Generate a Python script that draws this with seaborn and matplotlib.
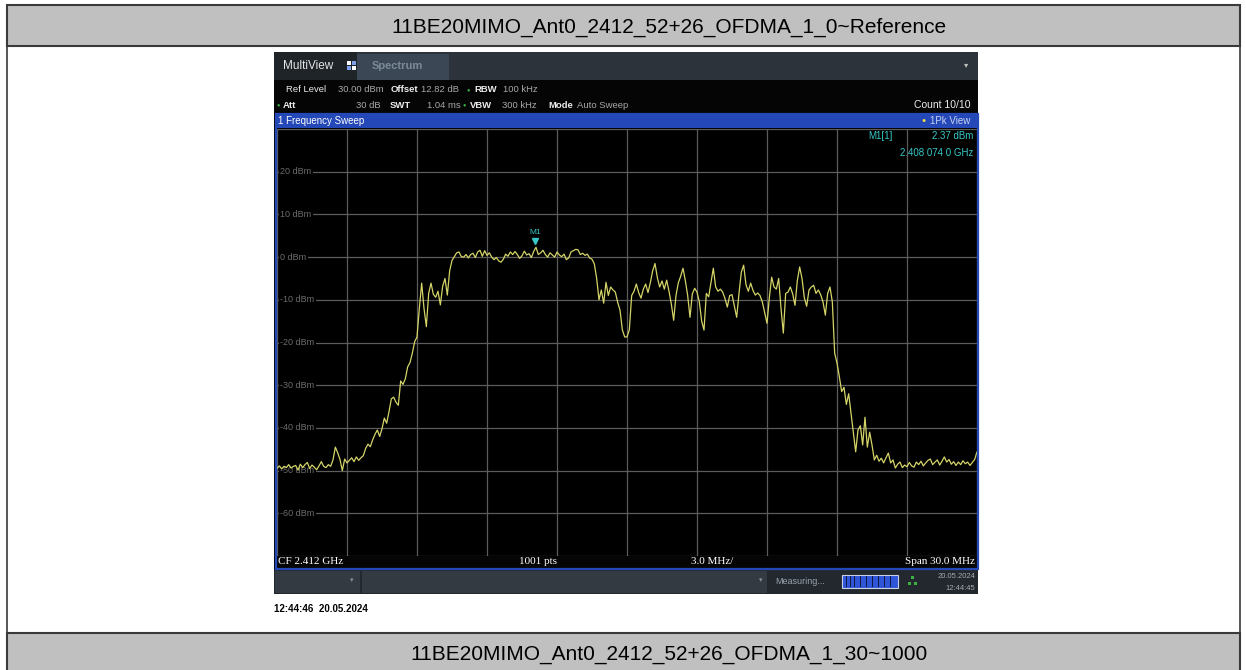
import numpy as np
import matplotlib
matplotlib.use("Agg")
import matplotlib.pyplot as plt
import matplotlib.transforms as mtransforms
from matplotlib.patches import Rectangle
import seaborn as sns

# Analyzer settings shown on the screen
CF_MHZ = 2412.0
SPAN_MHZ = 30.0
REF_LEVEL = 30
BOTTOM_LEVEL = -70

# Trace, one value every 0.1 MHz (2397 .. 2427 MHz)
level_dbm = [
    -49.5, -48.9, -49.6, -49.0, -49.3, -48.6, -49.4, -49.0, -48.8, -49.9,
    -48.5, -49.3, -48.6, -48.1, -49.5, -48.7, -49.2, -49.8, -48.9, -47.9,
    -49.0, -49.3, -48.6, -49.0, -47.5, -44.5, -45.8, -47.4, -50.0, -47.3,
    -48.2, -47.6, -47.0, -47.9, -46.8, -47.6, -47.0, -46.5, -44.8, -43.8,
    -44.4, -42.8, -41.5, -40.5, -42.0, -40.2, -37.7, -38.9, -36.2, -33.2,
    -32.8, -34.0, -34.7, -29.0, -29.8, -28.5, -25.7, -24.7, -22.5, -19.8,
    -18.7, -12.0, -6.1, -12.0, -16.3, -8.5, -6.1, -8.7, -9.4, -8.0,
    -11.2, -6.8, -5.0, -8.9, -3.2, -0.8, 0.1, 1.0, 1.2, 0.1,
    0.0, 0.6, -0.2, 0.6, 0.9, -0.1, 1.2, 1.6, 0.2, 1.5,
    0.4, 1.0, 0.0, -0.6, -0.1, -0.9, -1.2, -0.5, 0.7, 0.2,
    1.2, 0.6, 1.3, 0.6, -0.3, 0.3, 1.4, 0.5, 0.8, -0.1,
    1.3, 2.3, 0.6, 1.0, 1.6, 0.6, 0.0, 1.0, 0.5, 0.0,
    1.2, 0.5, 0.1, 0.7, -0.6, -0.2, 1.2, 1.5, 1.8, 1.7,
    0.6, 0.9, 0.4, 0.7, -0.2, -0.5, -1.6, -5.0, -10.0, -7.7,
    -10.8, -5.9, -9.0, -7.0, -7.7, -8.2, -10.6, -12.4, -17.0, -18.7,
    -18.7, -17.0, -9.0, -8.0, -6.3, -8.3, -9.6, -7.5, -6.3, -8.3,
    -6.0, -3.2, -1.5, -4.8, -7.0, -5.6, -7.5, -5.4, -8.0, -11.0,
    -14.8, -9.0, -6.0, -4.5, -2.6, -5.5, -9.0, -14.1, -8.6, -7.3,
    -8.2, -10.5, -15.0, -17.1, -8.5, -9.3, -6.0, -2.6, -7.0, -8.0,
    -7.5, -8.2, -9.7, -11.7, -9.0, -8.8, -11.5, -14.1, -8.5, -3.5,
    -1.9, -6.5, -8.0, -6.1, -7.8, -8.9, -8.4, -9.0, -10.5, -13.0,
    -15.5, -9.5, -4.7, -7.0, -7.5, -5.0, -12.0, -17.8, -8.5, -8.2,
    -7.0, -8.6, -11.3, -5.5, -2.3, -5.0, -9.5, -11.5, -7.7, -7.0,
    -6.6, -8.5, -7.7, -8.8, -10.5, -13.6, -8.5, -7.0, -10.5, -22.5,
    -24.8, -28.0, -31.5, -30.5, -34.5, -32.0, -36.6, -41.2, -45.6, -40.5,
    -39.5, -44.0, -37.5, -44.5, -41.0, -44.0, -47.5, -46.4, -47.8, -47.1,
    -48.2, -47.0, -45.9, -48.2, -47.5, -49.4, -48.5, -48.0, -49.3, -48.7,
    -49.1, -48.1, -48.9, -49.2, -48.0, -48.6, -47.8, -48.9, -48.2, -47.6,
    -47.3, -48.6, -48.0, -47.5, -48.7, -47.8, -46.8, -48.0, -47.4, -48.5,
    -47.9, -48.8, -48.0, -48.6, -47.7, -48.4, -48.0, -48.8, -48.1, -47.4,
    -45.6,
]
# sweep points are evenly spaced across the span
freq_mhz = np.linspace(CF_MHZ - SPAN_MHZ / 2, CF_MHZ + SPAN_MHZ / 2, len(level_dbm))

ytick_values = [20, 10, 0, -10, -20, -30, -40, -50, -60]

marker_freq_mhz = 2408.074
marker_level_dbm = 2.37

TITLE_TOP = "11BE20MIMO_Ant0_2412_52+26_OFDMA_1_0~Reference"
TITLE_BOTTOM = "11BE20MIMO_Ant0_2412_52+26_OFDMA_1_30~1000"

TRACE_COLOR = "#d4d468"
MARKER_COLOR = "#38c8c8"
GRID_COLOR = "#5c5c5c"
FRAME_BLUE = "#2448b8"

sns.set_theme(style="white")
plt.rcParams["font.family"] = ["Liberation Sans", "DejaVu Sans"]

W, H = 1246, 670
fig = plt.figure(figsize=(W / 100, H / 100), dpi=100)
fig.patch.set_facecolor("white")


def px_rect(x0, y0, x1, y1, color, z=-5, **kw):
    kw.setdefault("edgecolor", "none")
    fig.add_artist(Rectangle((x0 / W, 1 - y1 / H), (x1 - x0) / W, (y1 - y0) / H,
                             transform=fig.transFigure, facecolor=color,
                             zorder=z, **kw))


def px_text(x, y, s, **kw):
    kw.setdefault("va", "center")
    fig.text(x / W, 1 - y / H, s, **kw)


# page frame with the two grey caption bands
px_rect(7, 46, 1240, 633, "none", z=-6, edgecolor="#3a3a3a", linewidth=1.2)
px_rect(7, 5, 1240, 46, "#c0c0c0", z=-6, edgecolor="#3a3a3a", linewidth=1.5)
px_rect(7, 633, 1240, 675, "#c0c0c0", z=-6, edgecolor="#3a3a3a", linewidth=1.5)
px_text(669, 27, TITLE_TOP, ha="center", fontsize=15, color="black")
px_text(669, 654, TITLE_BOTTOM, ha="center", fontsize=15, color="black")
px_text(274, 609, "12:44:46  20.05.2024", ha="left", fontsize=7,
        fontweight="bold", color="black")

# screenshot background, tab bar and header rows
px_rect(274, 52, 978, 594, "#050505")
px_rect(274, 52, 978, 80, "#2c333b")
px_rect(274, 52, 357, 80, "#1f2429")
px_rect(357, 54, 449, 80, "#3b4754")
px_text(283, 66, "MultiView", ha="left", fontsize=8.5, color="#e4e4e4")
for dx, dy, c in [(0, 0, "#ffffff"), (5, 0, "#7fa0e8"), (0, 5, "#7fa0e8"), (5, 5, "#ffffff")]:
    px_rect(347 + dx, 61 + dy, 351 + dx, 65 + dy, c, z=-4)
px_text(372, 66, "Spectrum", ha="left", fontsize=8, fontweight="bold", color="#7b8a99")
px_text(966, 66, "▾", ha="center", fontsize=6, color="#c0c0c0")

UI = dict(fontsize=6.8, va="center")
LBL = "#ececec"
VAL = "#a8a8a8"
px_text(286, 90, "Ref Level", ha="left", color=LBL, **UI)
px_text(338, 90, "30.00 dBm", ha="left", color=VAL, **UI)
px_text(391, 90, "Offset", ha="left", color=LBL, fontweight="bold", **UI)
px_text(421, 90, "12.82 dB", ha="left", color=VAL, **UI)
px_text(468, 90, "●", ha="center", color="#3cb043", fontsize=4)
px_text(474, 90, "RBW", ha="left", color=LBL, fontweight="bold", **UI)
px_text(503, 90, "100 kHz", ha="left", color=VAL, **UI)
px_text(278, 105, "●", ha="center", color="#3cb043", fontsize=4)
px_text(283, 105, "Att", ha="left", color=LBL, fontweight="bold", **UI)
px_text(356, 105, "30 dB", ha="left", color=VAL, **UI)
px_text(390, 105, "SWT", ha="left", color=LBL, fontweight="bold", **UI)
px_text(427, 105, "1.04 ms", ha="left", color=VAL, **UI)
px_text(464, 105, "●", ha="center", color="#3cb043", fontsize=4)
px_text(470, 105, "VBW", ha="left", color=LBL, fontweight="bold", **UI)
px_text(502, 105, "300 kHz", ha="left", color=VAL, **UI)
px_text(548, 105, "Mode", ha="left", color=LBL, fontweight="bold", **UI)
px_text(577, 105, "Auto Sweep", ha="left", color=VAL, **UI)
px_text(971, 105, "Count 10/10", ha="right", color=LBL, fontsize=7.5)

# blue window frame and title bar
px_rect(275, 114, 978, 128, FRAME_BLUE)
px_rect(275.5, 114, 977.5, 569, "none", z=5, edgecolor=FRAME_BLUE, linewidth=1.6)
px_text(278, 121, "1 Frequency Sweep", ha="left", fontsize=7, color="white")
px_text(924, 121, "●", ha="center", fontsize=5, color="#f0e040")
px_text(970, 121, "1Pk View", ha="right", fontsize=7, color="#c8d2f0")

# status bar
px_rect(274, 570, 978, 594, "#23282e")
px_rect(275, 571, 360, 593, "#343a41")
px_rect(362, 571, 767, 593, "#343a41")
px_text(352, 581, "▾", ha="center", fontsize=5, color="#8a9099")
px_text(761, 581, "▾", ha="center", fontsize=5, color="#8a9099")
px_text(775, 581, "Measuring...", ha="left", fontsize=6.5, color="#9aa3ad")
px_rect(842, 575, 898, 588, "#2f55d8", z=-4, edgecolor="#c8d0e8", linewidth=0.8)
for sx in [846, 850, 854, 860, 866, 872, 878, 884, 890]:
    px_rect(sx, 576, sx + 1.2, 587, "#101a40", z=-3)
for gx, gy in [(911, 576), (908, 582), (914, 582)]:
    px_rect(gx, gy, gx + 3, gy + 3, "#3cb043", z=-4)
px_text(975, 577, "20.05.2024", ha="right", fontsize=5.5, color="#a0a8b0")
px_text(975, 588, "12:44:45", ha="right", fontsize=5.5, color="#a0a8b0")

# frequency / span strip under the diagram
SERIF = dict(family=["Liberation Serif", "DejaVu Serif"], fontsize=8, color="white")
px_text(278, 562, "CF 2.412 GHz", ha="left", **SERIF)
px_text(538, 562, "1001 pts", ha="center", **SERIF)
px_text(712, 562, "3.0 MHz/", ha="center", **SERIF)
px_text(975, 562, "Span 30.0 MHz", ha="right", **SERIF)

# the diagram itself
ax = fig.add_axes([277 / W, 1 - 556 / H, 700 / W, 427 / H])
ax.set_facecolor("black")
sns.lineplot(x=freq_mhz, y=level_dbm, ax=ax, color=TRACE_COLOR, linewidth=0.9,
             estimator=None, zorder=3)
ax.set_xlim(CF_MHZ - SPAN_MHZ / 2, CF_MHZ + SPAN_MHZ / 2)
ax.set_ylim(BOTTOM_LEVEL, REF_LEVEL)
ax.set_xticks(np.linspace(CF_MHZ - SPAN_MHZ / 2, CF_MHZ + SPAN_MHZ / 2, 11))
ax.set_yticks(range(BOTTOM_LEVEL, REF_LEVEL + 1, 10))
ax.grid(True, color=GRID_COLOR, linewidth=0.9)
ax.tick_params(length=0, labelbottom=False, labelleft=False)
ax.set_xlabel("")
ax.set_ylabel("")
for side in ax.spines.values():
    side.set_visible(False)

blend = mtransforms.blended_transform_factory(ax.transAxes, ax.transData)
for v in ytick_values:
    ax.text(0.005, v, f"{v} dBm", transform=blend, ha="left", va="center",
            fontsize=6.5, color="#6c6c6c", zorder=2,
            bbox=dict(facecolor="black", edgecolor="none", pad=0.8))

# marker M1
mk_shift = mtransforms.offset_copy(ax.transData, fig=fig, y=4, units="points")
ax.plot([marker_freq_mhz], [marker_level_dbm], marker="v", markersize=4.5,
        color=MARKER_COLOR, linestyle="none", transform=mk_shift, zorder=4)
ax.annotate("M1", (marker_freq_mhz, marker_level_dbm), xytext=(0, 8),
            textcoords="offset points", ha="center", va="bottom",
            fontsize=6, color=MARKER_COLOR, zorder=4)

px_text(868, 136, "M1[1]", ha="left", fontsize=7, color=MARKER_COLOR)
px_text(973, 136, f"{marker_level_dbm:.2f} dBm", ha="right", fontsize=7, color=MARKER_COLOR)
px_text(973, 153, "2.408 074 0 GHz", ha="right", fontsize=7, color=MARKER_COLOR)

fig.savefig("out.png", dpi=100, facecolor=fig.get_facecolor())
